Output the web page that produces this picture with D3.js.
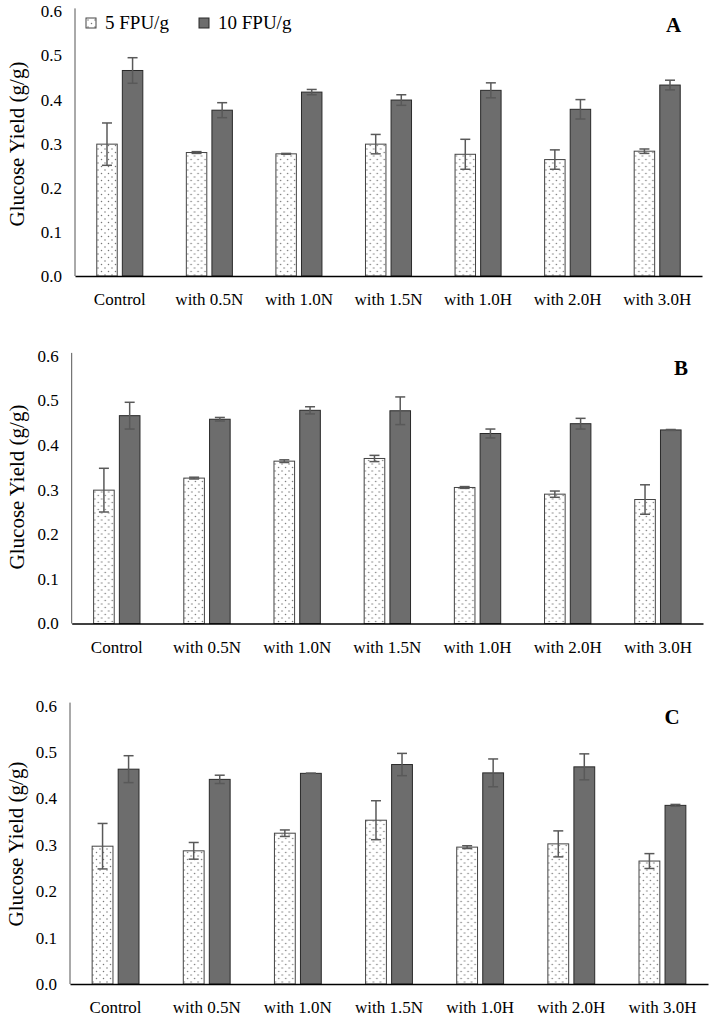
<!DOCTYPE html>
<html>
<head>
<meta charset="utf-8">
<script src="https://cdn.jsdelivr.net/npm/d3@7/dist/d3.min.js"></script>
<style>
  html, body { margin: 0; padding: 0; background: #fff; }
  svg { display: block; }
  text { font-family: "Liberation Serif", "Times New Roman", serif; fill: #000; }
</style>
</head>
<body>
<svg id="chart" width="709" height="1020"></svg>
<script>
// ---------- data ----------
const categories = ["Control", "with 0.5N", "with 1.0N", "with 1.5N", "with 1.0H", "with 2.0H", "with 3.0H"];
const seriesNames = ["5 FPU/g", "10 FPU/g"];
const yTickValues = [0.0, 0.1, 0.2, 0.3, 0.4, 0.5, 0.6];
const panelLetters = ["A", "B", "C"];
const yAxisTitle = "Glucose Yield (g/g)";

const A_5 = [0.299, 0.280, 0.277, 0.299, 0.276, 0.264, 0.283];
const A_5err = [0.048, 0.002, 0.001, 0.022, 0.034, 0.022, 0.005];
const A_10 = [0.466, 0.376, 0.417, 0.399, 0.421, 0.378, 0.433];
const A_10err = [0.029, 0.017, 0.006, 0.012, 0.017, 0.022, 0.011];

const B_5 = [0.299, 0.326, 0.364, 0.370, 0.305, 0.290, 0.278];
const B_5err = [0.049, 0.002, 0.003, 0.007, 0.002, 0.007, 0.033];
const B_10 = [0.466, 0.458, 0.478, 0.477, 0.426, 0.448, 0.434];
const B_10err = [0.030, 0.004, 0.008, 0.031, 0.010, 0.012, 0.001];

const C_5 = [0.297, 0.287, 0.325, 0.353, 0.295, 0.302, 0.265];
const C_5err = [0.049, 0.018, 0.007, 0.042, 0.003, 0.028, 0.016];
const C_10 = [0.463, 0.441, 0.454, 0.473, 0.455, 0.468, 0.385];
const C_10err = [0.029, 0.009, 0.000, 0.024, 0.030, 0.028, 0.002];

// ---------- layout ----------
const panels = [
  { letter: panelLetters[0], v5: A_5, e5: A_5err, v10: A_10, e10: A_10err,
    x0: 75, x1: 702, yBase: 276, yTop: 11.4, letterX: 673.5, letterY: 32, titleX: 17, titleY: 144, legend: true },
  { letter: panelLetters[1], v5: B_5, e5: B_5err, v10: B_10, e10: B_10err,
    x0: 71.7, x1: 703, yBase: 623.5, yTop: 355.9, letterX: 681, letterY: 375, titleX: 17, titleY: 487, legend: false },
  { letter: panelLetters[2], v5: C_5, e5: C_5err, v10: C_10, e10: C_10err,
    x0: 70, x1: 708, yBase: 984, yTop: 705.6, letterX: 672, letterY: 724, titleX: 16, titleY: 844, legend: false }
];

const FONT = '"Liberation Serif", "Times New Roman", serif';
const svg = d3.select("#chart");
const defs = svg.append("defs");
const pat = defs.append("pattern")
  .attr("id", "dots")
  .attr("patternUnits", "userSpaceOnUse")
  .attr("width", 7).attr("height", 7);
pat.append("rect").attr("width", 7).attr("height", 7).attr("fill", "#fff");
pat.append("circle").attr("cx", 2).attr("cy", 2).attr("r", 0.75).attr("fill", "#777");
pat.append("circle").attr("cx", 5.5).attr("cy", 5.5).attr("r", 0.75).attr("fill", "#777");

const fills = ["url(#dots)", "#6d6d6d"];
const strokes = ["#444", "#2a2a2a"];

panels.forEach(p => {
  const g = svg.append("g");
  const y = d3.scaleLinear().domain([0, 0.6]).range([p.yBase, p.yTop]);
  const x = d3.scaleBand().domain(categories).range([p.x0, p.x1]);
  const bw = x.bandwidth();
  const inner = d3.scaleBand().domain(seriesNames).range([bw * 0.243, bw * 0.757]).paddingInner(0.2);

  // y axis
  const yAxis = d3.axisLeft(y).tickValues(yTickValues).tickFormat(d3.format(".1f")).tickSize(0).tickPadding(13);
  const ya = g.append("g").attr("transform", `translate(${p.x0},0)`).call(yAxis)
    .attr("font-family", FONT).attr("font-size", 17);
  ya.select(".domain").remove();
  ya.selectAll("text").attr("fill", "#000");
  g.append("line").attr("x1", p.x0).attr("x2", p.x0).attr("y1", p.yTop - 3).attr("y2", p.yBase)
    .attr("stroke", "#555").attr("stroke-width", 1);

  // bars
  const rows = categories.map((c, i) => ({ c, vals: [
    { s: seriesNames[0], v: p.v5[i], e: p.e5[i], k: 0 },
    { s: seriesNames[1], v: p.v10[i], e: p.e10[i], k: 1 }
  ]}));
  const grp = g.selectAll(".cat").data(rows).enter().append("g")
    .attr("transform", d => `translate(${x(d.c)},0)`);
  grp.selectAll("rect").data(d => d.vals).enter().append("rect")
    .attr("x", d => inner(d.s))
    .attr("width", inner.bandwidth())
    .attr("y", d => y(d.v))
    .attr("height", d => y(0) - y(d.v))
    .attr("fill", d => fills[d.k])
    .attr("stroke", d => strokes[d.k])
    .attr("stroke-width", 1);

  // error bars
  const eb = grp.selectAll(".eb").data(d => d.vals).enter().append("g")
    .attr("stroke", "#595959").attr("stroke-width", 1.5).attr("fill", "none");
  const cx = d => inner(d.s) + inner.bandwidth() / 2;
  eb.append("line").attr("x1", cx).attr("x2", cx).attr("y1", d => y(d.v + d.e)).attr("y2", d => y(d.v - d.e));
  eb.append("line").attr("x1", d => cx(d) - 5).attr("x2", d => cx(d) + 5).attr("y1", d => y(d.v + d.e)).attr("y2", d => y(d.v + d.e));
  eb.append("line").attr("x1", d => cx(d) - 5).attr("x2", d => cx(d) + 5).attr("y1", d => y(d.v - d.e)).attr("y2", d => y(d.v - d.e));

  // x axis
  const xAxis = d3.axisBottom(x).tickSize(0).tickPadding(0);
  const xa = g.append("g").attr("transform", `translate(0,${p.yBase})`).call(xAxis)
    .attr("font-family", FONT).attr("font-size", 17);
  xa.select(".domain").attr("stroke", "#000").attr("stroke-width", 1.6);
  xa.selectAll("text").attr("fill", "#000").attr("dy", null).attr("y", 29);

  // y title
  g.append("text").attr("transform", `translate(${p.titleX},${p.titleY}) rotate(-90)`)
    .attr("text-anchor", "middle").attr("dominant-baseline", "central")
    .attr("font-family", FONT).attr("font-size", 21).text(yAxisTitle);

  // panel letter
  g.append("text").attr("x", p.letterX).attr("y", p.letterY).attr("text-anchor", "middle")
    .attr("font-family", FONT).attr("font-size", 21).attr("font-weight", "bold").text(p.letter);

  // legend
  if (p.legend) {
    const lg = g.append("g");
    const items = [{ s: seriesNames[0], k: 0, x: 86 }, { s: seriesNames[1], k: 1, x: 199 }];
    const li = lg.selectAll("g").data(items).enter().append("g").attr("transform", d => `translate(${d.x},18)`);
    li.append("rect").attr("width", 10).attr("height", 10)
      .attr("fill", d => fills[d.k]).attr("stroke", d => strokes[d.k]).attr("stroke-width", 1);
    li.append("text").attr("x", 19).attr("y", 11).attr("font-family", FONT).attr("font-size", 19).text(d => d.s);
  }
});
</script>
</body>
</html>
